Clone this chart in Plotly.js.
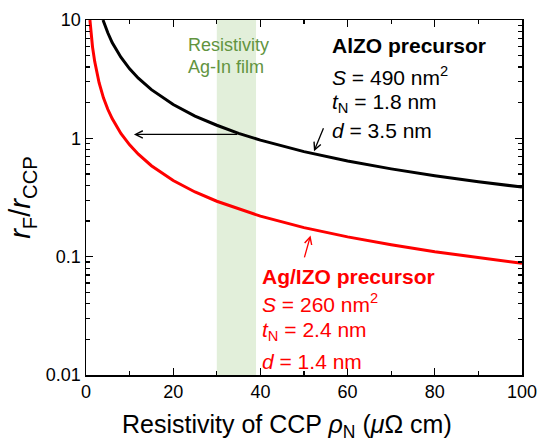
<!DOCTYPE html>
<html><head><meta charset="utf-8">
<script src="https://cdn.plot.ly/plotly-3.0.1.min.js"></script>
<style>html,body{margin:0;padding:0;background:#fff}#chart{width:541px;height:442px}</style>
</head><body><div id="chart"></div>
<script>
// AlZO precursor curve (black)
const alzoX = [3.9, 4.5, 5, 6, 7, 8, 10, 12, 15, 20, 25, 30, 35, 40, 50, 60, 70, 80, 90, 100];
const alzoY = [10, 8.6, 7.8, 6.45, 5.55, 4.85, 3.87, 3.22, 2.58, 1.93, 1.54, 1.29, 1.1, 0.965, 0.772, 0.643, 0.552, 0.483, 0.43, 0.387];
// Ag/IZO precursor curve (red)
const agX = [0.9, 1.2, 1.5, 2, 2.5, 3, 4, 5, 6, 8, 10, 12, 15, 20, 25, 30, 40, 50, 60, 70, 80, 90, 100];
const agY = [10, 7.4, 5.9, 4.45, 3.55, 2.95, 2.2, 1.76, 1.47, 1.1, 0.88, 0.735, 0.587, 0.44, 0.352, 0.294, 0.22, 0.176, 0.147, 0.126, 0.11, 0.098, 0.088];
// Ag-In film resistivity band
const bandX = [30, 39];
const yTickVals = [0.01, 0.1, 1, 10];
const yTickText = ['0.01', '0.1', '1', '10'];
const xTickVals = [0, 20, 40, 60, 80, 100];

const F = 'Arial, "Liberation Sans", sans-serif';
const lg = v => Math.log10(v);

const traces = [
  {x: alzoX, y: alzoY, mode: 'lines', line: {color: '#000000', width: 3}, hoverinfo: 'skip'},
  {x: agX, y: agY, mode: 'lines', line: {color: '#ff0000', width: 3}, hoverinfo: 'skip'}
];

function txt(x, y, text, color, size, bold) {
  return {x: x, y: y, xref: 'x', yref: 'y', text: bold ? '<b>' + text + '</b>' : text,
    showarrow: false, xanchor: 'left', yanchor: 'middle',
    font: {family: F, size: size, color: color}};
}

const annotations = [
  txt(22.9, 0.790, 'Resistivity', '#62943f', 18),
  txt(22.9, 0.607, 'Ag-In film', '#62943f', 18),
  txt(56.0, 0.786, 'AlZO precursor', '#000', 21, true),
  txt(56.0, 0.528, '<i>S</i> = 490 nm<sup>2</sup>', '#000', 21),
  txt(56.0, 0.300, '<i>t</i><sub>N</sub> = 1.8 nm', '#000', 21),
  txt(56.0, 0.070, '<i>d</i> = 3.5 nm', '#000', 21),
  txt(39.8, -1.166, 'Ag/IZO precursor', '#ff0000', 21, true),
  txt(39.8, -1.391, '<i>S</i> = 260 nm<sup>2</sup>', '#ff0000', 21),
  txt(39.8, -1.630, '<i>t</i><sub>N</sub> = 2.4 nm', '#ff0000', 21),
  txt(39.8, -1.884, '<i>d</i> = 1.4 nm', '#ff0000', 21),
  // x-axis title
  {x: 0.461, y: -0.145, xref: 'paper', yref: 'paper', showarrow: false, xanchor: 'center', yanchor: 'middle',
   text: 'Resistivity of CCP <i>ρ</i><sub>N</sub> (<i>μ</i>Ω cm)', font: {family: F, size: 25, color: '#000'}},
  // long horizontal arrow
  {x: 11, y: lg(1.08), ax: 35, ay: lg(1.08), axref: 'x', ayref: 'y', xref: 'x', yref: 'y',
   text: '', showarrow: true, arrowhead: 5, arrowsize: 1.1, arrowwidth: 1.3, arrowcolor: '#000', standoff: 0},
  // small arrow to black curve
  {x: 52.3, y: lg(0.778), ax: 54.6, ay: lg(1.25), axref: 'x', ayref: 'y', xref: 'x', yref: 'y',
   text: '', showarrow: true, arrowhead: 5, arrowsize: 1.1, arrowwidth: 1.3, arrowcolor: '#000', standoff: 0},
  // small arrow to red curve
  {x: 51.5, y: lg(0.151), ax: 50.0, ay: lg(0.0957), axref: 'x', ayref: 'y', xref: 'x', yref: 'y',
   text: '', showarrow: true, arrowhead: 5, arrowsize: 1.1, arrowwidth: 1.3, arrowcolor: '#ff0000', standoff: 0}
];

const layout = {
  width: 541, height: 442,
  margin: {l: 86, r: 19, t: 20, b: 66.5},
  paper_bgcolor: '#fff', plot_bgcolor: '#fff',
  showlegend: false,
  font: {family: F, color: '#000'},
  shapes: [{type: 'rect', xref: 'x', yref: 'paper', x0: bandX[0], x1: bandX[1], y0: 0, y1: 1,
    fillcolor: '#e2efda', line: {width: 0}, layer: 'below'}],
  xaxis: {
    range: [0, 100], tickvals: xTickVals, ticks: 'inside', ticklen: 7, tickwidth: 1.3, tickcolor: '#000',
    showline: true, linecolor: '#000', linewidth: 1.5, mirror: 'allticks', showgrid: false, zeroline: false,
    tickfont: {family: F, size: 18, color: '#000'},
    minor: {dtick: 10, ticks: 'inside', ticklen: 4, tickwidth: 1.2, tickcolor: '#000', showgrid: false}
  },
  yaxis: {
    type: 'log', range: [-2, 1], tickvals: yTickVals, ticktext: yTickText,
    ticks: 'inside', ticklen: 7, tickwidth: 1.3, tickcolor: '#000',
    showline: true, linecolor: '#000', linewidth: 1.5, mirror: 'allticks', showgrid: false, zeroline: false,
    tickfont: {family: F, size: 18, color: '#000'},
    minor: {dtick: 'D1', ticks: 'inside', ticklen: 4, tickwidth: 1.2, tickcolor: '#000', showgrid: false},
    title: {text: '<i>r</i><sub>F</sub>/<i>r</i><sub>CCP</sub>', font: {family: F, size: 29, color: '#000'}, standoff: 6}
  },
  annotations: annotations
};

Plotly.newPlot('chart', traces, layout, {staticPlot: true, displayModeBar: false});
</script></body></html>
